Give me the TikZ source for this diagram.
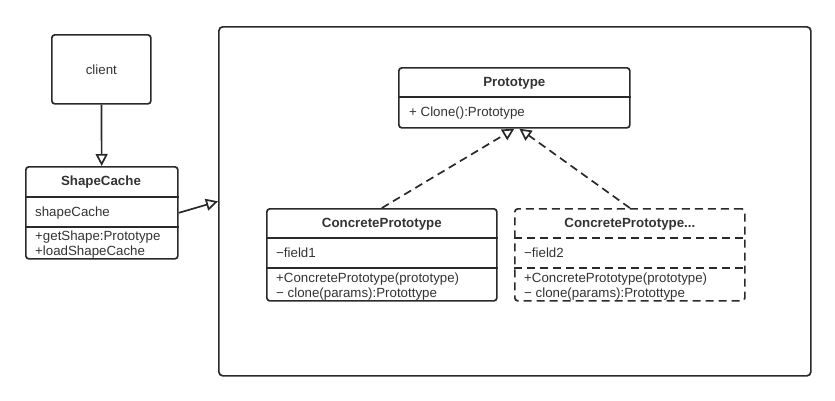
\documentclass[tikz,border=0pt]{standalone}
\usepackage{fontspec}
\setmainfont{Liberation Sans}
\usepackage{xcolor}
\definecolor{cLine}{HTML}{2A2A2A}
\definecolor{cText}{HTML}{333333}
\usepackage{tikz}
\usetikzlibrary{positioning,arrows.meta,calc}
\tikzset{
  class-box/.style={draw=cLine,line width=1.7pt,rounded corners=3pt,
    anchor=north west,inner sep=0pt},
  class-dashed/.style={dash pattern=on 8pt off 5pt},
  class-title/.style={font=\fontsize{13.3}{15}\selectfont\bfseries,text=cText,inner sep=0pt},
  class-item/.style={font=\fontsize{13.3}{15}\selectfont,text=cText,anchor=west,inner sep=0pt},
  class-sep/.style={draw=cLine,line width=1.7pt},
  arrow-use/.style={-{Triangle[open,length=12pt,width=12pt]},line width=1.7pt,draw=cLine},
  arrow-realize/.style={-{Triangle[open,length=12pt,width=12pt]},line width=1.7pt,
    draw=cLine,dash pattern=on 8pt off 5pt},
}

\begin{document}
\begin{tikzpicture}[x=1pt,y=-1pt]
  \useasboundingbox (0,0) rectangle (835,400);
  % client and cache
  \node[class-box,minimum width=99pt,minimum height=69pt] (client) at (51,34) {};
  \node[class-item,anchor=center] (client-t) at (client.center) {client};
  \node[class-box,minimum width=152pt,minimum height=92pt] (cache) at (25,166) {};
  \node[class-title] (cache-t) at (101,182) {ShapeCache};
  \draw[class-sep] (cache.west |- 0,197) -- (cache.east |- 0,197);
  \node[class-item] (cache-f) at (35,213) {shapeCache};
  \draw[class-sep] (cache.west |- 0,227) -- (cache.east |- 0,227);
  \node[class-item] (cache-m1) at (35,237) {+getShape:Prototype};
  \node[class-item] (cache-m2) at (35,252) {+loadShapeCache};
  % frame
  \node[class-box,rounded corners=4pt,minimum width=592pt,minimum height=349pt] (frame) at (218,26) {};
  % prototype
  \node[class-box,minimum width=231pt,minimum height=60pt] (proto) at (398,67) {};
  \node[class-title] (proto-t) at (proto.north |- 0,83) {Prototype};
  \draw[class-sep] (proto.west |- 0,97) -- (proto.east |- 0,97);
  \node[class-item] (proto-m) at (409,113) {+ Clone():Prototype};
  % concrete prototypes
  \node[class-box,minimum width=230pt,minimum height=92pt] (cp) at (266,208) {};
  \node[class-title] (cp-t) at (cp.north |- 0,224) {ConcretePrototype};
  \draw[class-sep] (cp.west |- 0,238) -- (cp.east |- 0,238);
  \node[class-item] (cp-f) at (276,253) {−field1};
  \draw[class-sep] (cp.west |- 0,268) -- (cp.east |- 0,268);
  \node[class-item] (cp-m1) at (276,279) {+ConcretePrototype(prototype)};
  \node[class-item] (cp-m2) at (276,294) {− clone(params):Protottype};
  \node[class-box,class-dashed,minimum width=230pt,minimum height=92pt] (cq) at (514,208) {};
  \node[class-title] (cq-t) at (cq.north |- 0,224) {ConcretePrototype...};
  \draw[class-sep,class-dashed] (cq.west |- 0,238) -- (cq.east |- 0,238);
  \node[class-item] (cq-f) at (524,253) {−field2};
  \draw[class-sep,class-dashed] (cq.west |- 0,268) -- (cq.east |- 0,268);
  \node[class-item] (cq-m1) at (524,279) {+ConcretePrototype(prototype)};
  \node[class-item] (cq-m2) at (524,294) {− clone(params):Protottype};
  % connectors
  \draw[arrow-use] (client) -- (cache);
  \draw[arrow-use] (cache.east) -- (frame.west);
  \draw[arrow-realize] (cp.north) -- (proto.south);
  \draw[arrow-realize] (cq.north) -- ([xshift=5pt]proto.south);
\end{tikzpicture}
\end{document}
